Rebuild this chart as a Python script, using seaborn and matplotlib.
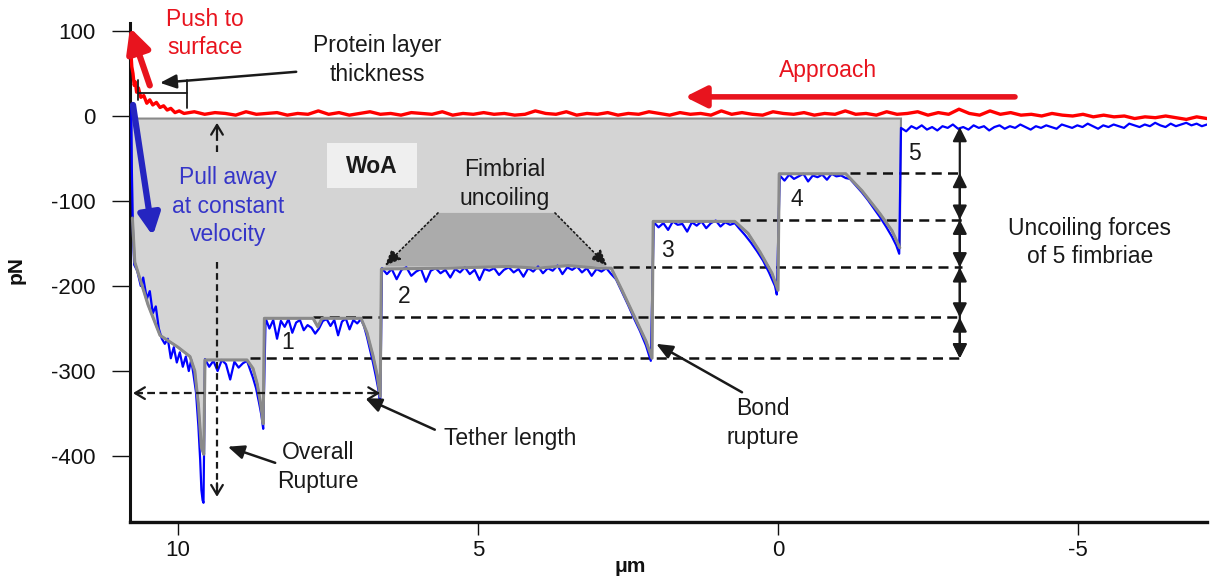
import numpy as np
import matplotlib
matplotlib.use("Agg")
import matplotlib.pyplot as plt
import seaborn as sns
from matplotlib.patches import Rectangle, Polygon

# ---------------- data ----------------
# Approach (red) trace: far baseline sampled evenly, then contact region
red_far_span = (-7.15, 9.9)
red_far_y = [-3, -1, -4, -2, 0, -2, -1, -3, 0, -1,
             1, -1, 2, 0, 1, 3, 0, 2, 1, 4,
             2, 6, 1, 3, 8, 2, 4, 1, 5, 3,
             2, 5, 1, 3, 2, 6, 2, 3, 1, 4,
             2, 3, 5, 1, 2, 4, 2, 6, 1, 3,
             2, 4, 1, 3, 5, 2, 3, 1, 4, 2,
             3, 1, 5, 2, 3, 6, 2, 1, 3, 2,
             4, 2, 3, 1, 5, 2, 3, 4, 1, 3,
             2, 5, 3, 1, 4, 2, 6, 2, 3, 1,
             4, 3, 2, 5, 1, 3, 4, 2, 5, 3]
red_near_x = [9.98, 10.05, 10.12, 10.18, 10.24, 10.30, 10.36, 10.42, 10.47, 10.52,
              10.57, 10.62, 10.66, 10.69, 10.71, 10.73, 10.75, 10.77, 10.785]
red_near_y = [6, 4, 9, 7, 12, 10, 16, 13, 19, 15, 24, 22, 33, 28, 40, 36, 50, 58, 75]

# Retraction (blue) trace
blue_start_x = [10.78, 10.77, 10.75, 10.73, 10.68, 10.62, 10.58, 10.52, 10.47, 10.42,
                10.37, 10.32, 10.27, 10.22, 10.17, 10.12, 10.07, 10.02, 9.97, 9.92,
                9.87, 9.82, 9.78, 9.74, 9.70, 9.66, 9.63, 9.61, 9.59, 9.575]
blue_start_y = [13, -60, -140, -175, -182, -200, -190, -215, -206, -232,
                -224, -250, -262, -268, -262, -285, -272, -290, -278, -295,
                -283, -300, -287, -305, -325, -365, -405, -440, -452, -455]

plateau_levels = [-285, -237, -178, -122, -67]
baseline_level = -13

blue_p1_span = (9.55, 8.85)
blue_p1_y = [-286, -295, -288, -300, -287, -292, -310, -289, -296, -291, -288]
blue_f1_x = [8.80, 8.75, 8.70, 8.65, 8.61, 8.58]
blue_f1_y = [-298, -308, -320, -337, -352, -368]

blue_p2_span = (8.54, 6.95)
blue_p2_y = [-238, -250, -240, -262, -241, -248, -239, -255, -243, -240, -252, -246,
             -249, -256, -250, -241, -239, -247, -240, -258, -242, -238, -251, -240,
             -244, -239]
blue_f2_x = [6.90, 6.85, 6.80, 6.75, 6.70, 6.66, 6.63]
blue_f2_y = [-247, -260, -275, -290, -307, -322, -340]

blue_p3_span = (6.60, 2.78)
blue_p3_y = [-179, -186, -180, -192, -181, -178, -188, -183, -180, -195, -182, -179,
             -185, -181, -190, -180, -184, -178, -186, -181, -193, -180, -182, -179,
             -187, -181, -178, -184, -180, -189, -179, -183, -177, -185, -179, -182,
             -176, -186, -178, -181, -177, -184, -179, -188, -180, -183, -179, -186]
blue_f3_x = [2.70, 2.60, 2.50, 2.40, 2.30, 2.20, 2.12]
blue_f3_y = [-192, -207, -222, -238, -253, -270, -288]

blue_p4_span = (2.07, 0.72)
blue_p4_y = [-125, -131, -126, -134, -124, -128, -127, -136, -125, -129, -124, -132,
             -126, -123, -130, -125, -128, -126]
blue_f4_x = [0.65, 0.55, 0.45, 0.35, 0.25, 0.15, 0.05, 0.02]
blue_f4_y = [-132, -140, -149, -159, -170, -184, -200, -210]

blue_p5_span = (-0.03, -1.13)
blue_p5_y = [-70, -76, -69, -74, -71, -68, -77, -70, -72, -69, -75, -68, -71, -70, -73]
blue_f5_x = [-1.20, -1.30, -1.40, -1.50, -1.60, -1.70, -1.80, -1.90, -1.97, -2.02]
blue_f5_y = [-74, -82, -90, -99, -109, -119, -130, -142, -152, -162]

blue_tail_span = (-2.05, -7.15)
blue_tail_y = [-14, -18, -12, -15, -11, -16, -13, -17, -12, -14, -10, -15, -13, -16, -11,
               -14, -12, -17, -13, -11, -15, -12, -14, -10, -13, -16, -12, -14, -11, -13,
               -15, -10, -12, -14, -11, -13, -9, -12, -15, -11, -13, -10, -12, -14, -9,
               -11, -13, -10, -12, -8, -11, -13, -9, -12, -10, -8, -11, -9, -12, -10]

# Smoothed envelope bounding the work of adhesion (WoA) area
env_x = [10.78, 10.76, 10.72, 10.50, 10.30, 10.00, 9.80, 9.72, 9.66, 9.61, 9.57, 9.55,
         8.85, 8.75, 8.68, 8.62, 8.58, 8.56, 7.75, 7.67, 7.60, 6.95, 6.85, 6.75, 6.68,
         6.63, 6.61, 5.50, 4.50, 4.00, 3.50, 3.00, 2.78, 2.60, 2.40, 2.20, 2.10, 2.08,
         0.72, 0.50, 0.30, 0.10, 0.00, -0.02, -1.13, -1.40, -1.70, -1.90, -2.03, -2.05]
env_y = [-3, -120, -172, -222, -258, -272, -283, -300, -340, -390, -398, -287,
         -287, -297, -315, -340, -362, -238, -238, -248, -238, -238, -255, -282, -305,
         -330, -180, -179, -177, -179, -176, -179, -179, -205, -235, -265, -285, -124,
         -124, -138, -160, -185, -205, -68, -68, -88, -115, -135, -155, -3]

# Levels used for the dashed guides and the force-step arrows
dash_start = [8.80, 7.75, 2.75, 0.63, -1.20]
dash_end = -3.07
step_levels = [baseline_level] + plateau_levels
step_arrow_x = -3.03

peak_labels = ["1", "2", "3", "4", "5"]
peak_label_x = [8.17, 6.23, 1.85, -0.32, -2.28]
peak_label_y = [-267, -212, -158, -98, -44]

x_ticks = [10, 5, 0, -5]
x_tick_labels = ["10", "5", "0", "-5"]
y_ticks = [100, 0, -100, -200, -300, -400]
y_tick_labels = ["100", "0", "-100", "-200", "-300", "-400"]

# ---------------- assemble traces ----------------
def even(span, vals):
    return list(np.linspace(span[0], span[1], len(vals)))

red_x = even(red_far_span, red_far_y) + red_near_x
red_y = red_far_y + red_near_y

blue_x = (blue_start_x
          + even(blue_p1_span, blue_p1_y) + blue_f1_x
          + even(blue_p2_span, blue_p2_y) + blue_f2_x
          + even(blue_p3_span, blue_p3_y) + blue_f3_x
          + even(blue_p4_span, blue_p4_y) + blue_f4_x
          + even(blue_p5_span, blue_p5_y) + blue_f5_x
          + even(blue_tail_span, blue_tail_y))
blue_y = (blue_start_y
          + blue_p1_y + blue_f1_y
          + blue_p2_y + blue_f2_y
          + blue_p3_y + blue_f3_y
          + blue_p4_y + blue_f4_y
          + blue_p5_y + blue_f5_y
          + blue_tail_y)

# ---------------- figure ----------------
sns.set_theme(style="white")
plt.rcParams["font.family"] = ["Liberation Sans", "DejaVu Sans"]
plt.rcParams["axes.unicode_minus"] = False

fig = plt.figure(figsize=(12.12, 5.79), dpi=100)
ax = fig.add_axes([130 / 1212, 57 / 579, 1077 / 1212, 499 / 579])
ax.set_xlim(10.8, -7.15)
ax.set_ylim(-477.6, 109.4)

TXT = "#1a1a1a"
RED = "#ff0000"
BLUE = "#0000ff"
FS = 16.5

# WoA area
ax.fill(env_x, env_y, facecolor="#d4d4d4", edgecolor="#8a8a8a", lw=1.5, zorder=1)

# Darker band marking fimbrial uncoiling
ax.add_patch(Polygon([(5.667, -114), (3.717, -114), (2.85, -177), (6.55, -177)],
                     closed=True, facecolor="#ababab", edgecolor="none", zorder=1.5))

# Dashed level guides
for xs, lvl in zip(dash_start, plateau_levels):
    ax.plot([xs, dash_end], [lvl, lvl], color="#111111", lw=1.8,
            ls=(0, (4, 2.5)), zorder=2)

# Traces
sns.lineplot(x=blue_x, y=blue_y, sort=False, estimator=None, color=BLUE,
             lw=1.6, ax=ax, zorder=3)
sns.lineplot(x=env_x[1:-1], y=env_y[1:-1], sort=False, estimator=None,
             color="#8a8a8a", lw=2.2, ax=ax, zorder=4)
sns.lineplot(x=red_x, y=red_y, sort=False, estimator=None, color=RED,
             lw=2.4, ax=ax, zorder=5)

# ---------------- annotations ----------------
def arrow(xy, xytext, color=TXT, lw=1.6, style="-|>,head_length=0.7,head_width=0.3",
          ms=14, ls="-"):
    ax.annotate("", xy=xy, xytext=xytext, annotation_clip=False,
                arrowprops=dict(arrowstyle=style, color=color, lw=lw, ls=ls,
                                mutation_scale=ms, shrinkA=0, shrinkB=0),
                zorder=7)

# Push to surface
ax.text(9.55, 97, "Push to\nsurface", color="#e8141e", fontsize=FS, ha="center",
        va="center", linespacing=1.3, clip_on=False, zorder=7)
arrow((10.8, 104), (10.47, 36), color="#e8141e", lw=4.5,
      style="-|>,head_length=0.8,head_width=0.4", ms=18)

# Protein layer thickness
ax.text(6.68, 66, "Protein layer\nthickness", color=TXT, fontsize=FS, ha="center",
        va="center", linespacing=1.3, zorder=7)
arrow((10.3, 39), (8.03, 52), lw=1.8)
ax.plot([10.67, 10.67], [42, 19], color=TXT, lw=1.3, zorder=6)
ax.plot([10.67, 9.855], [27, 27], color=TXT, lw=1.3, zorder=6)
ax.plot([9.855, 9.855], [42, 9], color=TXT, lw=1.3, zorder=6)

# Approach
ax.text(-0.83, 54, "Approach", color="#e8141e", fontsize=FS, ha="center",
        va="center", zorder=7)
arrow((1.55, 22.5), (-3.95, 22.5), color="#e8141e", lw=4,
      style="-|>,head_length=0.8,head_width=0.4", ms=16)

# Pull away
ax.text(9.17, -106, "Pull away\nat constant\nvelocity", color="#3535c8",
        fontsize=FS, ha="center", va="center", linespacing=1.3, zorder=7)
arrow((10.42, -141), (10.75, 13), color="#2525c0", lw=4.5,
      style="-|>,head_length=0.8,head_width=0.4", ms=16)

# Vertical dashed arrow (overall rupture span)
ax.plot([9.35, 9.35], [-42, -14], color=TXT, lw=1.6, ls=(0, (3, 2)), zorder=6)
arrow((9.35, -8), (9.35, -22), lw=1.6, style="->,head_length=0.5,head_width=0.3", ms=14)
ax.plot([9.35, 9.35], [-172, -438], color=TXT, lw=1.6, ls=(0, (3, 2)), zorder=6)
arrow((9.35, -448), (9.35, -432), lw=1.6, style="->,head_length=0.5,head_width=0.3", ms=14)

# WoA label
ax.add_patch(Rectangle((7.52, -84.7), -1.5, 52.9, facecolor="#efefef",
                       edgecolor="none", zorder=6))
ax.text(6.77, -59, "WoA", color=TXT, fontsize=FS, fontweight="bold",
        ha="center", va="center", zorder=7)

# Fimbrial uncoiling
ax.text(4.55, -80, "Fimbrial\nuncoiling", color=TXT, fontsize=FS, ha="center",
        va="center", linespacing=1.3, zorder=7)
arrow((6.55, -176), (5.667, -114), lw=1.2, ls=":", ms=12,
      style="-|>,head_length=0.8,head_width=0.35")
arrow((2.85, -176), (3.717, -114), lw=1.2, ls=":", ms=12,
      style="-|>,head_length=0.8,head_width=0.35")

# Peak numbers
for lab, lx, ly in zip(peak_labels, peak_label_x, peak_label_y):
    ax.text(lx, ly, lab, color=TXT, fontsize=FS, ha="center", va="center", zorder=7)

# Tether length
ax.plot([10.72, 6.68], [-326, -326], color=TXT, lw=1.6, ls=(0, (3.5, 2)), zorder=6)
arrow((10.75, -326), (10.6, -326), lw=1.6, style="->,head_length=0.5,head_width=0.3", ms=14)
arrow((6.63, -326), (6.78, -326), lw=1.6, style="->,head_length=0.5,head_width=0.3", ms=14)
ax.text(4.47, -379, "Tether length", color=TXT, fontsize=FS, ha="center",
        va="center", zorder=7)
arrow((6.88, -332), (5.72, -369), lw=1.8)

# Overall rupture
ax.text(7.67, -413, "Overall\nRupture", color=TXT, fontsize=FS, ha="center",
        va="center", linespacing=1.3, zorder=7)
arrow((9.17, -389), (8.38, -408), lw=1.8)

# Bond rupture
ax.text(0.25, -361, "Bond\nrupture", color=TXT, fontsize=FS, ha="center",
        va="center", linespacing=1.3, zorder=7)
arrow((2.03, -268), (0.6, -325), lw=1.8)

# Uncoiling force steps
for top, bot in zip(step_levels[:-1], step_levels[1:]):
    arrow((step_arrow_x, bot), (step_arrow_x, top), lw=1.6,
          style="<|-|>,head_length=0.6,head_width=0.3", ms=14)
ax.text(-5.2, -149, "Uncoiling forces\nof 5 fimbriae", color=TXT, fontsize=FS,
        ha="center", va="center", linespacing=1.3, zorder=7)

# ---------------- axes styling ----------------
for side in ("top", "right"):
    ax.spines[side].set_visible(False)
ax.spines["left"].set_linewidth(2.2)
ax.spines["bottom"].set_linewidth(2.4)
for side in ("left", "bottom"):
    ax.spines[side].set_color("#111111")

ax.set_xticks(x_ticks)
ax.set_xticklabels(x_tick_labels)
ax.set_yticks(y_ticks)
ax.set_yticklabels(y_tick_labels)
ax.tick_params(axis="x", direction="out", length=9, width=1, pad=4,
               labelsize=16, colors="#111111", bottom=True)
ax.tick_params(axis="y", direction="out", length=13, width=1, pad=12,
               labelsize=16, colors="#111111", left=True)
ax.set_xlabel("")
ax.set_ylabel("")
fig.text(16 / 1212, 1 - 270 / 579, "pN", rotation=90, fontsize=15,
         fontweight="bold", ha="center", va="center", color="#111111")
fig.text(630 / 1212, 1 - 567 / 579, "\u03bcm", fontsize=15, fontweight="bold",
         ha="center", va="center", color="#111111")

fig.savefig("out.png", dpi=100)
